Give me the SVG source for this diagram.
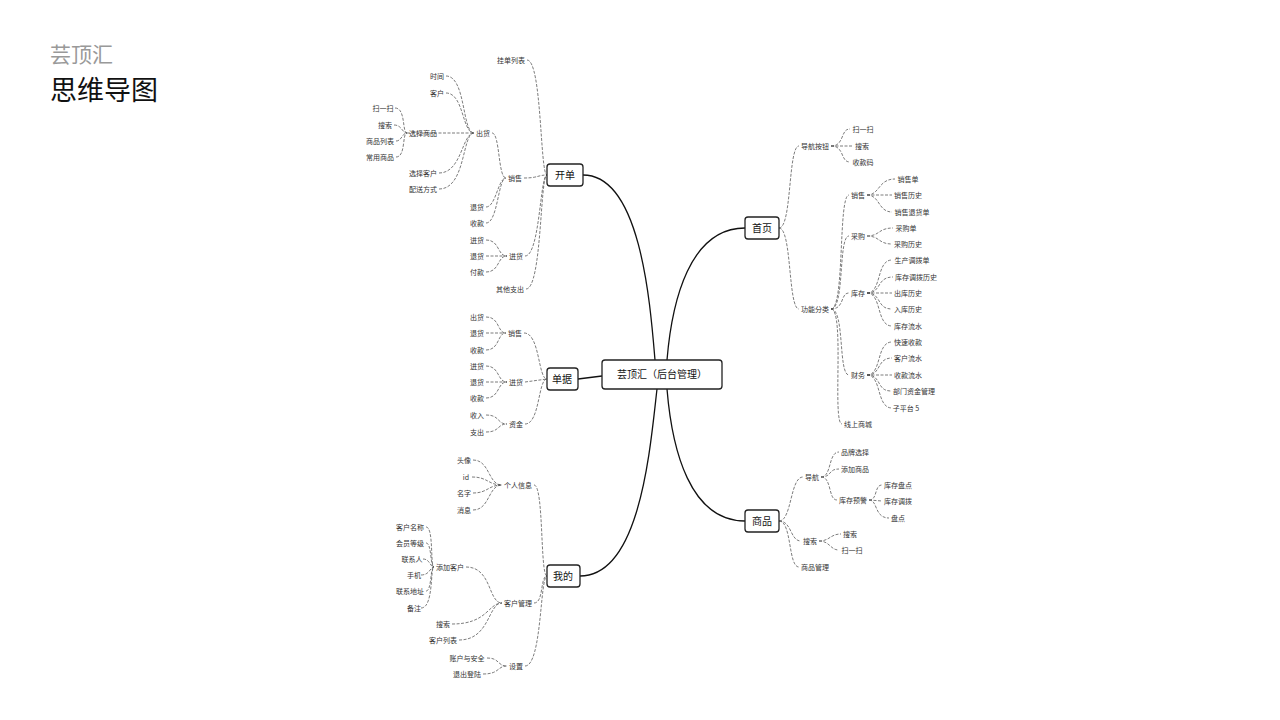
<svg xmlns="http://www.w3.org/2000/svg" width="1280" height="720" viewBox="0 0 1280 720">
<style>
text{font-family:"Noto Sans CJK SC","Noto Sans",sans-serif;fill:#333}
.t{font-size:7px;text-anchor:middle}
.b{font-size:10px;text-anchor:middle;fill:#111}
.box{fill:#fff;stroke:#222;stroke-width:1.3}
.m{fill:none;stroke:#111;stroke-width:1.3}
.d{fill:none;stroke:#444;stroke-width:0.7;stroke-dasharray:3 1.5}
</style>
<rect width="1280" height="720" fill="#fff"/>
<text x="50" y="62" font-size="21" fill="#999" style="fill:#999">芸顶汇</text>
<text x="50" y="100" font-size="27" style="fill:#111">思维导图</text>
<g id="connectors">
<path class="m" d="M583,175 C640,175 650,300 655,360"/>
<path class="m" d="M578,379 L602,376"/>
<path class="m" d="M580,576 C640,576 650,450 657,389"/>
<path class="m" d="M745,228 C690,228 672,300 667,360"/>
<path class="m" d="M745,521 C690,521 672,450 667,389"/>
<g id="cl">
<path class="d" d="M527,60 C542,60 540,175 547,175"/>
<path class="d" d="M524,178 C538,178 538,175 547,175"/>
<path class="d" d="M525,256 C540,256 540,175 547,175"/>
<path class="d" d="M526,289 C542,289 540,175 547,175"/>
<path class="d" d="M492,133 C500,133 498,178 506,178"/>
<path class="d" d="M486,207 C496,207 498,178 506,178"/>
<path class="d" d="M486,223 C498,223 498,178 506,178"/>
<path class="d" d="M446,76 C466,76 462,133 474,133"/>
<path class="d" d="M446,93 C464,93 462,133 474,133"/>
<path class="d" d="M407,133 L474,133"/>
<path class="d" d="M439,173 C462,173 462,133 474,133"/>
<path class="d" d="M439,189 C466,189 462,133 474,133"/>
<path class="d" d="M395,108 C406,108 402,133 407,133"/>
<path class="d" d="M394,125 C402,125 402,133 407,133"/>
<path class="d" d="M396,141 C402,141 402,133 407,133"/>
<path class="d" d="M396,157 C406,157 402,133 407,133"/>
<path class="d" d="M486,240 C500,240 497,256 507,256"/>
<path class="d" d="M486,256 L507,256"/>
<path class="d" d="M486,272 C500,272 497,256 507,256"/>
<path class="d" d="M524,333 C540,333 538,379 547,379"/>
<path class="d" d="M525,382 L547,379"/>
<path class="d" d="M525,424 C540,424 538,379 547,379"/>
<path class="d" d="M486,317 C500,317 497,333 506,333"/>
<path class="d" d="M486,333 L506,333"/>
<path class="d" d="M486,350 C500,350 497,333 506,333"/>
<path class="d" d="M486,366 C500,366 497,382 507,382"/>
<path class="d" d="M486,382 L507,382"/>
<path class="d" d="M486,398 C500,398 497,382 507,382"/>
<path class="d" d="M486,415 C500,415 497,424 507,424"/>
<path class="d" d="M486,432 C500,432 497,424 507,424"/>
<path class="d" d="M534,485 C544,485 540,576 547,576"/>
<path class="d" d="M534,603 C544,603 540,576 547,576"/>
<path class="d" d="M525,666 C542,666 540,576 547,576"/>
<path class="d" d="M473,460 C490,460 488,485 502,485"/>
<path class="d" d="M472,477 C488,477 488,485 502,485"/>
<path class="d" d="M473,493 C488,493 488,485 502,485"/>
<path class="d" d="M473,510 C490,510 488,485 502,485"/>
<path class="d" d="M466,567 C492,567 488,603 502,603"/>
<path class="d" d="M452,624 C488,624 488,603 502,603"/>
<path class="d" d="M459,640 C490,640 488,603 502,603"/>
<path class="d" d="M426,527 C434,527 430,567 434,567"/>
<path class="d" d="M426,543 C432,543 430,567 434,567"/>
<path class="d" d="M423,559 C430,559 430,567 434,567"/>
<path class="d" d="M421,575 C430,575 430,567 434,567"/>
<path class="d" d="M426,591 C432,591 430,567 434,567"/>
<path class="d" d="M421,608 C434,608 430,567 434,567"/>
<path class="d" d="M487,658 C500,658 497,666 507,666"/>
<path class="d" d="M483,674 C500,674 497,666 507,666"/>
</g>
<g id="cr">
<path class="d" d="M779,228 C792,228 788,146 799,146"/>
<path class="d" d="M779,228 C792,228 788,309 799,309"/>
<path class="d" d="M831,146 C845,146 840,129 850,129"/>
<path class="d" d="M831,146 L853,146"/>
<path class="d" d="M831,146 C845,146 840,162 850,162"/>
<path class="d" d="M831,309 C845,309 838,195 849,195"/>
<path class="d" d="M831,309 C845,309 838,236 849,236"/>
<path class="d" d="M831,309 C845,309 840,293 849,293"/>
<path class="d" d="M831,309 C845,309 838,375 849,375"/>
<path class="d" d="M831,309 C845,309 832,424 842,424"/>
<path class="d" d="M867,195 C880,195 878,179 895,179"/>
<path class="d" d="M867,195 L892,195"/>
<path class="d" d="M867,195 C880,195 878,212 892,212"/>
<path class="d" d="M867,236 C880,236 878,228 893,228"/>
<path class="d" d="M867,236 C880,236 878,244 892,244"/>
<path class="d" d="M867,293 C882,293 876,260 892,260"/>
<path class="d" d="M867,293 C882,293 876,277 893,277"/>
<path class="d" d="M867,293 L892,293"/>
<path class="d" d="M867,293 C882,293 876,309 892,309"/>
<path class="d" d="M867,293 C882,293 876,326 892,326"/>
<path class="d" d="M867,375 C882,375 876,342 892,342"/>
<path class="d" d="M867,375 C882,375 876,358 892,358"/>
<path class="d" d="M867,375 L892,375"/>
<path class="d" d="M867,375 C882,375 876,391 891,391"/>
<path class="d" d="M867,375 C882,375 876,408 892,408"/>
<path class="d" d="M779,521 C792,521 790,477 803,477"/>
<path class="d" d="M779,521 C792,521 790,541 801,541"/>
<path class="d" d="M779,521 C792,521 788,567 799,567"/>
<path class="d" d="M821,477 C832,477 828,452 839,452"/>
<path class="d" d="M821,477 C832,477 828,469 839,469"/>
<path class="d" d="M821,477 C832,477 828,500 837,500"/>
<path class="d" d="M869,500 C878,500 874,485 882,485"/>
<path class="d" d="M869,500 L882,501"/>
<path class="d" d="M869,500 C878,500 874,518 889,518"/>
<path class="d" d="M819,541 C830,541 830,534 841,534"/>
<path class="d" d="M819,541 C830,541 830,550 839,550"/>
</g>
</g>
<g id="center"><rect class="box" x="602" y="360" width="120" height="29" rx="3"/><text class="b" x="662" y="378">芸顶汇（后台管理）</text></g>
<g id="n-kaidan"><rect class="box" x="547" y="164" width="36" height="22" rx="3"/><text class="b" x="565" y="179">开单</text></g>
<g id="n-danju"><rect class="box" x="547" y="368" width="31" height="22" rx="3"/><text class="b" x="562" y="383">单据</text></g>
<g id="n-wode"><rect class="box" x="547" y="565" width="33" height="22" rx="3"/><text class="b" x="563" y="580">我的</text></g>
<g id="n-shouye"><rect class="box" x="745" y="217" width="34" height="22" rx="3"/><text class="b" x="762" y="232">首页</text></g>
<g id="n-shangpin"><rect class="box" x="745" y="510" width="34" height="22" rx="3"/><text class="b" x="762" y="525">商品</text></g>
<g id="leaves">
<text class="t" x="511" y="62.5">挂单列表</text><text class="t" x="515" y="180.5">销售</text><text class="t" x="516" y="258.5">进货</text><text class="t" x="510" y="291.5">其他支出</text>
<text class="t" x="483" y="135.5">出货</text><text class="t" x="477" y="209.5">退货</text><text class="t" x="477" y="225.5">收款</text>
<text class="t" x="437" y="78.5">时间</text><text class="t" x="437" y="95.5">客户</text><text class="t" x="423" y="135.5">选择商品</text><text class="t" x="423" y="175.5">选择客户</text><text class="t" x="423" y="191.5">配送方式</text>
<text class="t" x="383" y="110.5">扫一扫</text><text class="t" x="385" y="127.5">搜索</text><text class="t" x="380" y="143.5">商品列表</text><text class="t" x="380" y="159.5">常用商品</text>
<text class="t" x="477" y="242.5">进货</text><text class="t" x="477" y="258.5">退货</text><text class="t" x="477" y="274.5">付款</text>
<text class="t" x="515" y="335.5">销售</text><text class="t" x="516" y="384.5">进货</text><text class="t" x="516" y="426.5">资金</text>
<text class="t" x="477" y="319.5">出货</text><text class="t" x="477" y="335.5">退货</text><text class="t" x="477" y="352.5">收款</text>
<text class="t" x="477" y="368.5">进货</text><text class="t" x="477" y="384.5">退货</text><text class="t" x="477" y="400.5">收款</text>
<text class="t" x="477" y="417.5">收入</text><text class="t" x="477" y="434.5">支出</text>
<text class="t" x="518" y="487.5">个人信息</text><text class="t" x="518" y="605.5">客户管理</text><text class="t" x="516" y="668.5">设置</text>
<text class="t" x="464" y="462.5">头像</text><text class="t" x="466" y="479.5">id</text><text class="t" x="464" y="495.5">名字</text><text class="t" x="464" y="512.5">消息</text>
<text class="t" x="450" y="569.5">添加客户</text><text class="t" x="443" y="626.5">搜索</text><text class="t" x="443" y="642.5">客户列表</text>
<text class="t" x="410" y="529.5">客户名称</text><text class="t" x="410" y="545.5">会员等级</text><text class="t" x="412" y="561.5">联系人</text><text class="t" x="414" y="577.5">手机</text><text class="t" x="410" y="593.5">联系地址</text><text class="t" x="414" y="610.5">备注</text>
<text class="t" x="467" y="660.5">账户与安全</text><text class="t" x="467" y="676.5">退出登陆</text>
<text class="t" x="815" y="148.5">导航按钮</text><text class="t" x="815" y="311.5">功能分类</text>
<text class="t" x="863" y="131.5">扫一扫</text><text class="t" x="862" y="148.5">搜索</text><text class="t" x="863" y="164.5">收款码</text>
<text class="t" x="858" y="197.5">销售</text><text class="t" x="858" y="238.5">采购</text><text class="t" x="858" y="295.5">库存</text><text class="t" x="858" y="377.5">财务</text><text class="t" x="858" y="426.5">线上商城</text>
<text class="t" x="908" y="181.5">销售单</text><text class="t" x="908" y="197.5">销售历史</text><text class="t" x="912" y="214.5">销售退货单</text>
<text class="t" x="906" y="230.5">采购单</text><text class="t" x="908" y="246.5">采购历史</text>
<text class="t" x="912" y="262.5">生产调拨单</text><text class="t" x="916" y="279.5">库存调拨历史</text><text class="t" x="908" y="295.5">出库历史</text><text class="t" x="908" y="311.5">入库历史</text><text class="t" x="908" y="328.5">库存流水</text>
<text class="t" x="908" y="344.5">快速收款</text><text class="t" x="908" y="360.5">客户流水</text><text class="t" x="908" y="377.5">收款流水</text><text class="t" x="914" y="393.5">部门资金管理</text><text class="t" x="906" y="410.5">子平台 5</text>
<text class="t" x="812" y="479.5">导航</text><text class="t" x="810" y="543.5">搜索</text><text class="t" x="815" y="569.5">商品管理</text>
<text class="t" x="855" y="454.5">品牌选择</text><text class="t" x="855" y="471.5">添加商品</text><text class="t" x="853" y="502.5">库存预警</text>
<text class="t" x="898" y="487.5">库存盘点</text><text class="t" x="898" y="503.5">库存调拨</text><text class="t" x="898" y="520.5">盘点</text>
<text class="t" x="850" y="536.5">搜索</text><text class="t" x="852" y="552.5">扫一扫</text>
</g>
</svg>
